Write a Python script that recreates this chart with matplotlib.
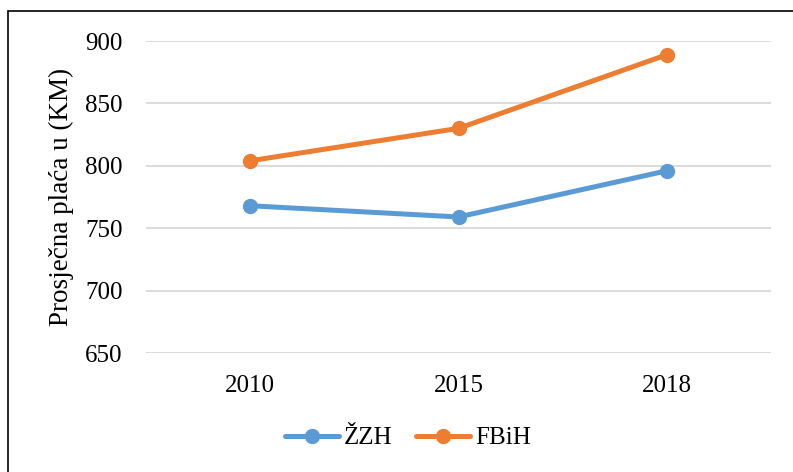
import matplotlib.pyplot as plt
from matplotlib.patches import Rectangle

years = ["2010", "2015", "2018"]
zzh = [768, 759, 796]
fbih = [804, 830, 889]
y_ticks = [650, 700, 750, 800, 850, 900]

plt.rcParams['font.family'] = ['Liberation Serif', 'DejaVu Serif']

fig = plt.figure(figsize=(7.93, 4.72), dpi=100)
ax = fig.add_axes([146 / 793, 1 - 353 / 472, 625 / 793, (353 - 41) / 472])

x = range(len(years))
ax.plot(x, zzh, color="#5B9BD5", lw=3.6, marker="o", ms=10, label="ŽZH",
        solid_capstyle="round")
ax.plot(x, fbih, color="#ED7D31", lw=3.6, marker="o", ms=10, label="FBiH",
        solid_capstyle="round")

ax.set_xlim(-0.5, 2.5)
ax.set_ylim(650, 900)
ax.set_yticks(y_ticks)
ax.set_xticks(list(x))
ax.set_xticklabels(years)
ax.tick_params(length=0, labelsize=18)
ax.tick_params(axis="y", pad=17)
ax.tick_params(axis="x", pad=16)
ax.grid(axis="y", color="#D9D9D9", lw=1.3)
ax.set_axisbelow(True)
for s in ax.spines.values():
    s.set_visible(False)
ax.set_ylabel("Prosječna plaća u (KM)", fontsize=19.5, labelpad=8)

fig.legend(loc="center", bbox_to_anchor=(408 / 793, 1 - 438 / 472), ncol=2,
           frameon=False, fontsize=18, handlelength=2.15, columnspacing=0.95,
           handletextpad=0.2)

fig.add_artist(Rectangle((8 / 793, -0.1), 1.2, 1 - 11 / 472 + 0.1,
                         transform=fig.transFigure, fill=False,
                         edgecolor="black", lw=1.2))

fig.savefig("out.png", dpi=100)
